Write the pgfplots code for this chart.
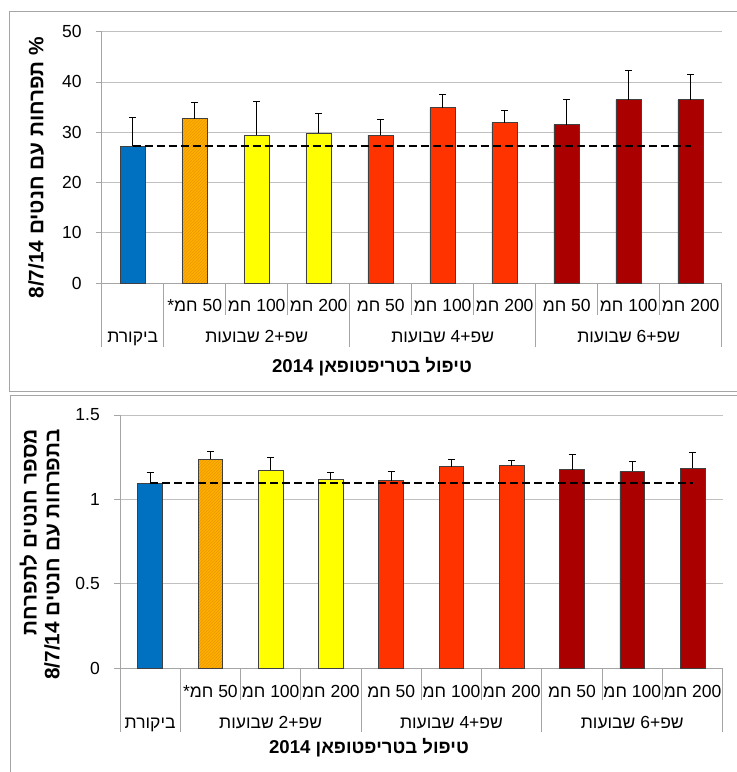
\documentclass[border=0pt]{standalone}
\usepackage{fontspec}
\setmainfont{Liberation Sans}
\newfontfamily\heb[Script=Hebrew]{Liberation Sans}
\usepackage{pgfplots}
\pgfplotsset{compat=1.18}
\usetikzlibrary{patterns}
\TeXXeTstate=1

\definecolor{ctrlblue}{RGB}{0,112,192}
\definecolor{hatchorange}{RGB}{255,176,0}
\definecolor{hatchline}{RGB}{232,150,0}
\definecolor{wkyellow}{RGB}{255,255,0}
\definecolor{wkred}{RGB}{255,51,0}
\definecolor{wkdark}{RGB}{170,0,0}
\definecolor{barline}{RGB}{64,64,64}
\definecolor{gridgray}{RGB}{192,192,192}
\definecolor{axisgray}{RGB}{165,165,165}
\definecolor{framegray}{RGB}{165,165,165}

\newcommand\tickfont{\fontsize{17.5}{21}\selectfont}
\newcommand\catfont{\heb\fontsize{17.5}{21}\selectfont}
\newcommand\titlefont{\heb\bfseries\fontsize{18.6}{22}\selectfont}
\newcommand\ylabfont{\heb\bfseries\fontsize{20.8}{24}\selectfont}

\tikzset{sepline/.style={axisgray, line width=0.9pt}}

\pgfplotsset{
  panel/.style={
    scale only axis, anchor=south west,
    xmin=0, xmax=10, ymin=0,
    axis x line*=bottom, axis y line*=left,
    axis line style={axisgray, line width=0.9pt},
    xtick=\empty,
    ymajorgrids, grid style={gridgray, line width=0.9pt},
    tick align=outside, major tick length=6pt,
    ytick style={axisgray, line width=0.9pt},
    yticklabel style={font=\tickfont, inner sep=0pt, xshift=-14pt},
    /pgf/number format/assume math mode=true,
    clip=false,
  },
  bars/.style={
    ybar, bar shift=0pt, bar width=0.41,
    draw=barline, line width=0.8pt,
    error bars/y dir=plus, error bars/y explicit,
    error bars/error mark=-,
    error bars/error bar style={black, line width=0.9pt},
    error bars/error mark options={rotate=90, black, line width=0.9pt, mark size=3.5pt},
  },
  hatched/.style={fill=hatchorange, postaction={pattern=north east lines, pattern color=hatchline}},
  refline/.style={black, line width=2pt, dash pattern=on 8pt off 4pt},
}

\begin{document}
\begin{tikzpicture}
\useasboundingbox (0pt,0pt) rectangle (737pt,772pt);

% panel frames
\draw[framegray, line width=1pt] (9pt,760pt) rectangle (760pt,380pt);
\draw[framegray, line width=1pt] (10pt,376pt) rectangle (760pt,-20pt);

% ---------- upper panel: share of inflorescences with fruitlets ----------
\begin{axis}[panel, at={(101.7pt,489pt)}, width=620pt, height=251.3pt,
  ymax=50, ytick={0,10,20,30,40,50}]
\addplot[bars, fill=ctrlblue] coordinates {(0.5,27.2) +- (0,5.7)};
\addplot[bars, hatched] coordinates {(1.5,32.7) +- (0,3.2)};
\addplot[bars, fill=wkyellow] coordinates {(2.5,29.4) +- (0,6.7) (3.5,29.8) +- (0,4.0)};
\addplot[bars, fill=wkred] coordinates {(4.5,29.4) +- (0,3.1) (5.5,34.9) +- (0,2.7) (6.5,31.9) +- (0,2.5)};
\addplot[bars, fill=wkdark] coordinates {(7.5,31.5) +- (0,5.0) (8.5,36.5) +- (0,5.7) (9.5,36.5) +- (0,4.9)};
\addplot[refline] coordinates {(0.5,27.2) (9.5,27.2)};

\pgfplotsinvokeforeach{0,1,4,7,10}{\draw[sepline] (axis cs:#1,0) -- ++(0pt,-64pt);}
\pgfplotsinvokeforeach{2,3,5,6,8,9}{\draw[sepline] (axis cs:#1,0) -- ++(0pt,-32pt);}

\node[anchor=base, font=\catfont, yshift=-28.7pt] at (axis cs:1.5,0) {\beginR 50 חמ*\endR};
\node[anchor=base, font=\catfont, yshift=-28.7pt] at (axis cs:2.5,0) {\beginR 100 חמ\endR};
\node[anchor=base, font=\catfont, yshift=-28.7pt] at (axis cs:3.5,0) {\beginR 200 חמ\endR};
\node[anchor=base, font=\catfont, yshift=-28.7pt] at (axis cs:4.5,0) {\beginR 50 חמ\endR};
\node[anchor=base, font=\catfont, yshift=-28.7pt] at (axis cs:5.5,0) {\beginR 100 חמ\endR};
\node[anchor=base, font=\catfont, yshift=-28.7pt] at (axis cs:6.5,0) {\beginR 200 חמ\endR};
\node[anchor=base, font=\catfont, yshift=-28.7pt] at (axis cs:7.5,0) {\beginR 50 חמ\endR};
\node[anchor=base, font=\catfont, yshift=-28.7pt] at (axis cs:8.5,0) {\beginR 100 חמ\endR};
\node[anchor=base, font=\catfont, yshift=-28.7pt] at (axis cs:9.5,0) {\beginR 200 חמ\endR};

\node[anchor=base, font=\catfont, yshift=-60pt] at (axis cs:0.5,0) {\beginR ביקורת\endR};
\node[anchor=base, font=\catfont, yshift=-60pt] at (axis cs:2.5,0) {\beginR שפ+2 שבועות\endR};
\node[anchor=base, font=\catfont, yshift=-60pt] at (axis cs:5.5,0) {\beginR שפ+4 שבועות\endR};
\node[anchor=base, font=\catfont, yshift=-60pt] at (axis cs:8.5,0) {\beginR שפ+6 שבועות\endR};
\end{axis}

\node[anchor=base, font=\titlefont, inner sep=0pt] at (372pt,399.3pt) {\beginR טיפול בטריפטופאן 2014\endR};
\node[rotate=90, anchor=base east, font=\ylabfont, inner sep=0pt] at (43.3pt,735.3pt)
  {\beginR \% תפרחות עם חנטים 8/7/14\endR};

% ---------- lower panel: fruitlets per inflorescence ----------
\begin{axis}[panel, at={(120pt,103.7pt)}, width=602.7pt, height=253.3pt,
  ymax=1.5, ytick={0,0.5,1,1.5}]
\addplot[bars, fill=ctrlblue] coordinates {(0.5,1.095) +- (0,0.065)};
\addplot[bars, hatched] coordinates {(1.5,1.237) +- (0,0.046)};
\addplot[bars, fill=wkyellow] coordinates {(2.5,1.174) +- (0,0.075) (3.5,1.117) +- (0,0.043)};
\addplot[bars, fill=wkred] coordinates {(4.5,1.111) +- (0,0.055) (5.5,1.194) +- (0,0.041) (6.5,1.200) +- (0,0.031)};
\addplot[bars, fill=wkdark] coordinates {(7.5,1.176) +- (0,0.089) (8.5,1.166) +- (0,0.061) (9.5,1.184) +- (0,0.093)};
\addplot[refline] coordinates {(0.5,1.095) (9.5,1.095)};

\pgfplotsinvokeforeach{0,1,4,7,10}{\draw[sepline] (axis cs:#1,0) -- ++(0pt,-63.5pt);}
\pgfplotsinvokeforeach{2,3,5,6,8,9}{\draw[sepline] (axis cs:#1,0) -- ++(0pt,-31.7pt);}

\node[anchor=base, font=\catfont, yshift=-28.7pt] at (axis cs:1.5,0) {\beginR 50 חמ*\endR};
\node[anchor=base, font=\catfont, yshift=-28.7pt] at (axis cs:2.5,0) {\beginR 100 חמ\endR};
\node[anchor=base, font=\catfont, yshift=-28.7pt] at (axis cs:3.5,0) {\beginR 200 חמ\endR};
\node[anchor=base, font=\catfont, yshift=-28.7pt] at (axis cs:4.5,0) {\beginR 50 חמ\endR};
\node[anchor=base, font=\catfont, yshift=-28.7pt] at (axis cs:5.5,0) {\beginR 100 חמ\endR};
\node[anchor=base, font=\catfont, yshift=-28.7pt] at (axis cs:6.5,0) {\beginR 200 חמ\endR};
\node[anchor=base, font=\catfont, yshift=-28.7pt] at (axis cs:7.5,0) {\beginR 50 חמ\endR};
\node[anchor=base, font=\catfont, yshift=-28.7pt] at (axis cs:8.5,0) {\beginR 100 חמ\endR};
\node[anchor=base, font=\catfont, yshift=-28.7pt] at (axis cs:9.5,0) {\beginR 200 חמ\endR};

\node[anchor=base, font=\catfont, yshift=-59.7pt] at (axis cs:0.5,0) {\beginR ביקורת\endR};
\node[anchor=base, font=\catfont, yshift=-59.7pt] at (axis cs:2.5,0) {\beginR שפ+2 שבועות\endR};
\node[anchor=base, font=\catfont, yshift=-59.7pt] at (axis cs:5.5,0) {\beginR שפ+4 שבועות\endR};
\node[anchor=base, font=\catfont, yshift=-59.7pt] at (axis cs:8.5,0) {\beginR שפ+6 שבועות\endR};
\end{axis}

\node[anchor=base, font=\titlefont, inner sep=0pt] at (369pt,18pt) {\beginR טיפול בטריפטופאן 2014\endR};
\node[rotate=90, anchor=base east, font=\ylabfont, inner sep=0pt] at (36.7pt,343pt)
  {\beginR מספר חנטים לתפרחת\endR};
\node[rotate=90, anchor=base east, font=\ylabfont, inner sep=0pt] at (59.3pt,343pt)
  {\beginR בתפרחות עם חנטים 8/7/14\endR};
\end{tikzpicture}
\end{document}
